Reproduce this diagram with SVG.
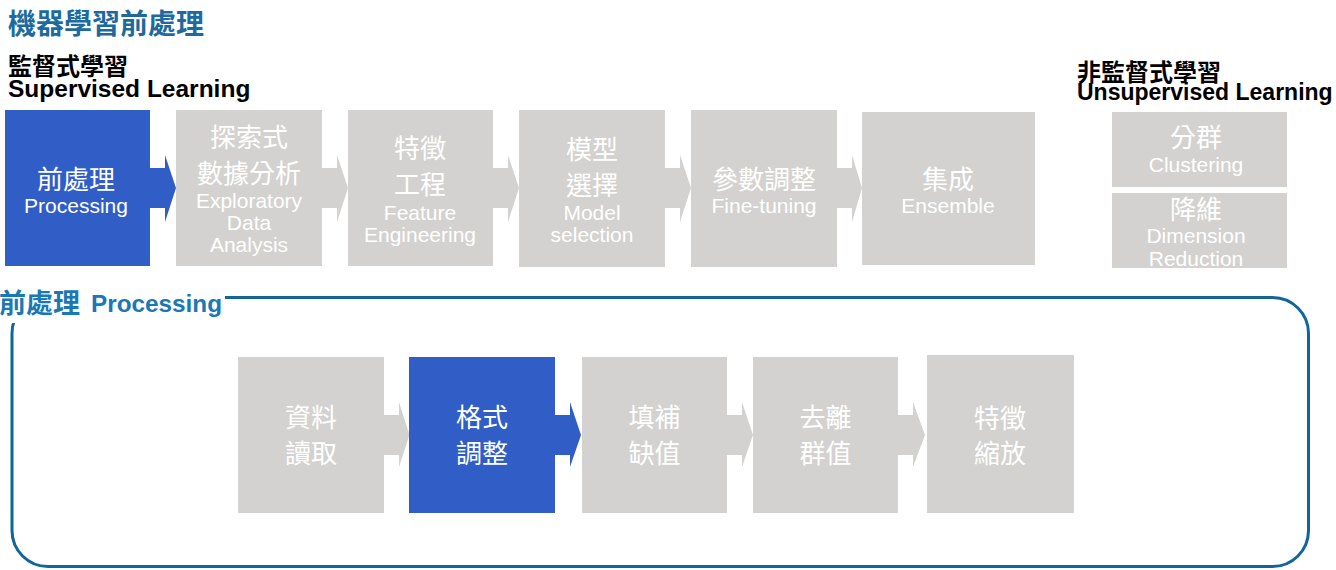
<svg xmlns="http://www.w3.org/2000/svg" width="1336" height="570" viewBox="0 0 1336 570">
  <style>
    .gray { fill: #d3d2d0; }
    .blue { fill: #315dc7; }
    .cjk { font-family: "Noto Sans CJK TC", "Liberation Sans", sans-serif; font-size: 26px; fill: #ffffff; text-anchor: middle; }
    .lat { font-family: "Liberation Sans", Arial, sans-serif; font-size: 21px; fill: #ffffff; text-anchor: middle; }
    .head { font-family: "Liberation Sans", "Noto Sans CJK TC", sans-serif; font-weight: bold; fill: #000000; }
    .cjkhead { font-family: "Noto Sans CJK TC", "Liberation Sans", sans-serif; font-weight: bold; fill: #000000; }
  </style>
  <rect x="0" y="0" width="1336" height="570" fill="#ffffff"/>

  <!-- Titles -->
  <g id="titles">
    <text x="8" y="34" class="cjkhead" font-size="28" style="fill:#1c6a9e">機器學習前處理</text>
    <text x="8" y="75" class="cjkhead" font-size="24">監督式學習</text>
    <text x="8" y="97" class="head" font-size="24.5">Supervised Learning</text>
    <text x="1077" y="81" class="cjkhead" font-size="24">非監督式學習</text>
    <text x="1077" y="100" class="head" font-size="23">Unsupervised Learning</text>
  </g>

  <!-- Processing frame -->
  <g id="processing-frame">
    <rect x="12" y="297.5" width="1296.5" height="269" rx="36" ry="36" fill="none" stroke="#10669b" stroke-width="3"/>
    <rect x="0" y="283" width="225" height="40" fill="#ffffff"/>
    <text y="313" style="font-family: 'Liberation Sans', 'Noto Sans CJK TC', sans-serif; font-weight: bold; fill: #1a78b4;"><tspan x="-1" font-size="27" style="font-family: 'Noto Sans CJK TC', sans-serif;">前處理</tspan><tspan x="91" y="312" font-size="24.3">Processing</tspan></text>
  </g>

  <!-- Connectors -->
  <g id="connectors">
    <polygon class="blue" points="150,168 165,168 165,155 176,188 165,222 165,208 150,208"/>
    <polygon class="gray" points="322,168 337,168 337,155 348,188 337,222 337,208 322,208"/>
    <polygon class="gray" points="493,168 508,168 508,155 519,188 508,222 508,208 493,208"/>
    <polygon class="gray" points="665,168 680,168 680,155 691,188 680,222 680,208 665,208"/>
    <polygon class="gray" points="837,168 852,168 852,155 862,188 852,222 852,208 837,208"/>

    <polygon class="gray" points="384,415 399,415 399,402 409.5,435 399,467 399,455 384,455"/>
    <polygon class="blue" points="555,415 570,415 570,402 581,435 570,467 570,455 555,455"/>
    <polygon class="gray" points="727,415 742,415 742,402 753,435 742,467 742,455 727,455"/>
    <polygon class="gray" points="898,415 913,415 913,402 925,435 913,467 913,455 898,455"/>
  </g>

  <!-- Top row nodes -->
  <g id="node-preprocessing">
    <rect class="blue" x="5" y="110" width="145" height="156"/>
    <text class="cjk" x="76" y="189">前處理</text>
    <text class="lat" x="76" y="213">Processing</text>
  </g>
  <g id="node-eda">
    <rect class="gray" x="176" y="110" width="146" height="156"/>
    <text class="cjk" x="249" y="147">探索式</text>
    <text class="cjk" x="249" y="183">數據分析</text>
    <text class="lat" x="249" y="208">Exploratory</text>
    <text class="lat" x="249" y="230">Data</text>
    <text class="lat" x="249" y="252">Analysis</text>
  </g>
  <g id="node-feature-engineering">
    <rect class="gray" x="348" y="110" width="145" height="156"/>
    <text class="cjk" x="420" y="158">特徵</text>
    <text class="cjk" x="420" y="194">工程</text>
    <text class="lat" x="420" y="220">Feature</text>
    <text class="lat" x="420" y="242">Engineering</text>
  </g>
  <g id="node-model-selection">
    <rect class="gray" x="519" y="110" width="146" height="157"/>
    <text class="cjk" x="592" y="159">模型</text>
    <text class="cjk" x="592" y="195">選擇</text>
    <text class="lat" x="592" y="220">Model</text>
    <text class="lat" x="592" y="242">selection</text>
  </g>
  <g id="node-fine-tuning">
    <rect class="gray" x="691" y="110" width="146" height="157"/>
    <text class="cjk" x="764" y="189">參數調整</text>
    <text class="lat" x="764" y="213">Fine-tuning</text>
  </g>
  <g id="node-ensemble">
    <rect class="gray" x="862" y="112" width="173" height="153"/>
    <text class="cjk" x="948" y="189">集成</text>
    <text class="lat" x="948" y="213">Ensemble</text>
  </g>

  <!-- Unsupervised nodes -->
  <g id="node-clustering">
    <rect class="gray" x="1112" y="112" width="175" height="75"/>
    <text class="cjk" x="1196" y="146.5">分群</text>
    <text class="lat" x="1196" y="172">Clustering</text>
  </g>
  <g id="node-dimension-reduction">
    <rect class="gray" x="1112" y="193" width="175" height="75"/>
    <text class="cjk" x="1196" y="218.5">降維</text>
    <text class="lat" x="1196" y="243">Dimension</text>
    <text class="lat" x="1196" y="266">Reduction</text>
  </g>

  <!-- Lower row nodes -->
  <g id="node-data-read">
    <rect class="gray" x="238" y="357" width="146" height="156"/>
    <text class="cjk" x="311" y="427">資料</text>
    <text class="cjk" x="311" y="463">讀取</text>
  </g>
  <g id="node-format">
    <rect class="blue" x="409" y="357" width="146" height="156"/>
    <text class="cjk" x="482" y="427">格式</text>
    <text class="cjk" x="482" y="463">調整</text>
  </g>
  <g id="node-missing">
    <rect class="gray" x="582" y="357" width="145" height="156"/>
    <text class="cjk" x="654.5" y="427">填補</text>
    <text class="cjk" x="654.5" y="463">缺值</text>
  </g>
  <g id="node-outlier">
    <rect class="gray" x="753" y="357" width="145" height="156"/>
    <text class="cjk" x="825.5" y="427">去離</text>
    <text class="cjk" x="825.5" y="463">群值</text>
  </g>
  <g id="node-scaling">
    <rect class="gray" x="927" y="355" width="147" height="158"/>
    <text class="cjk" x="1000" y="428">特徵</text>
    <text class="cjk" x="1000" y="463">縮放</text>
  </g>
</svg>
